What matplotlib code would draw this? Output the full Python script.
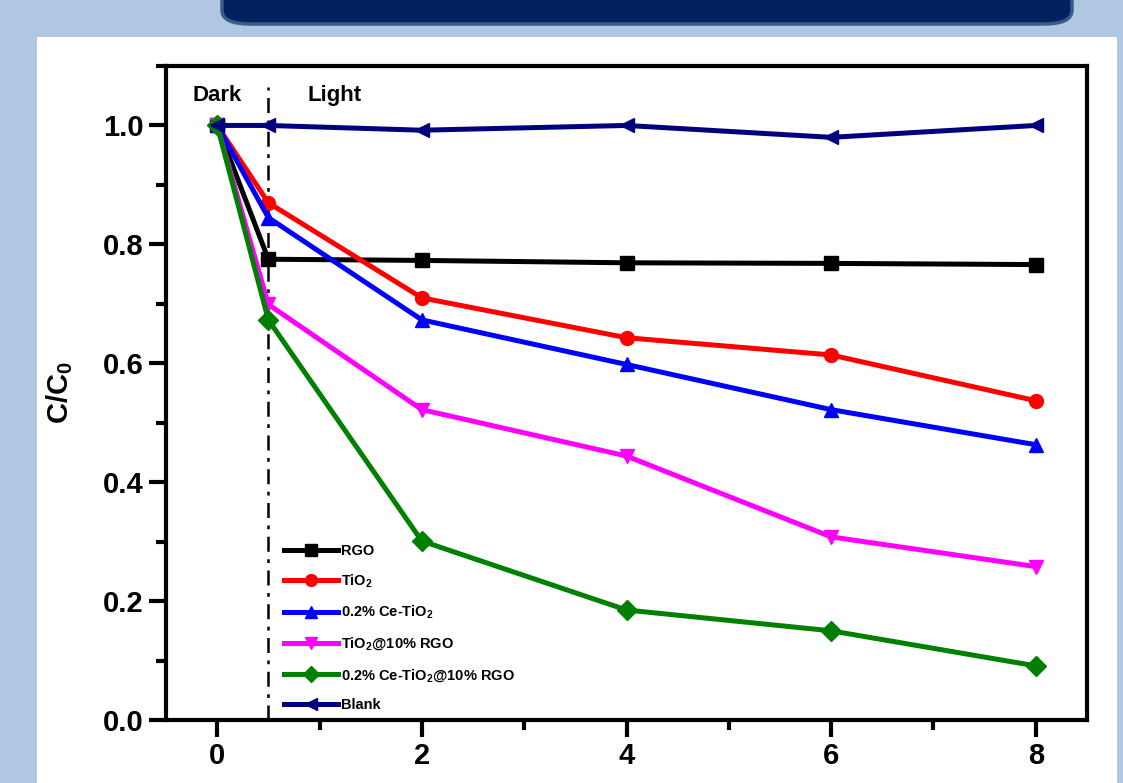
import numpy as np
import matplotlib
matplotlib.use('Agg')
import matplotlib.pyplot as plt
from matplotlib.patches import Rectangle, FancyBboxPatch
from matplotlib.ticker import MultipleLocator

plt.rcParams['font.family'] = ['Liberation Sans', 'DejaVu Sans']
plt.rcParams['font.weight'] = 'bold'
plt.rcParams['mathtext.fontset'] = 'custom'
plt.rcParams['mathtext.rm'] = 'Liberation Sans:bold'
plt.rcParams['mathtext.it'] = 'Liberation Sans:bold'
plt.rcParams['mathtext.bf'] = 'Liberation Sans:bold'
plt.rcParams['mathtext.default'] = 'rm'

# ===数据
time_h = [0, 0.5, 2, 4, 6, 8]
rgo = [1.0, 0.775, 0.773, 0.769, 0.768, 0.766]
tio2 = [1.0, 0.870, 0.710, 0.643, 0.614, 0.537]
ce_tio2 = [1.0, 0.845, 0.673, 0.598, 0.522, 0.463]
tio2_rgo = [1.0, 0.699, 0.522, 0.444, 0.308, 0.258]
ce_tio2_rgo = [1.0, 0.673, 0.301, 0.185, 0.150, 0.091]
blank = [1.0, 1.0, 0.992, 1.0, 0.980, 1.0]

series = [
    ('RGO', rgo, 'black', 's'),
    ('TiO$_2$', tio2, 'red', 'o'),
    ('0.2% Ce-TiO$_2$', ce_tio2, 'blue', '^'),
    ('TiO$_2$@10% RGO', tio2_rgo, 'magenta', 'v'),
    ('0.2% Ce-TiO$_2$@10% RGO', ce_tio2_rgo, 'green', 'D'),
    ('Blank', blank, 'navy', '<'),
]

fig = plt.figure(figsize=(11.23, 7.83), dpi=100)
fig.patch.set_facecolor('#b0c7e2')

# 白色面板 + 顶部深蓝色标题框
fig.patches.append(Rectangle((37 / 1123, 0), 1080 / 1123, 746 / 783,
                             transform=fig.transFigure, facecolor='white',
                             edgecolor='none', zorder=-2))
fig.patches.append(FancyBboxPatch((222 / 1123, 1 - 24 / 783), 850 / 1123, 60 / 783,
                                  boxstyle='round,pad=0,rounding_size=0.025',
                                  transform=fig.transFigure, facecolor='#02215f',
                                  edgecolor='#3a5a8a', linewidth=2.5, zorder=-2,
                                  mutation_aspect=783 / 1123))

ax = fig.add_axes([166 / 1123, 1 - 720 / 783, 921 / 1123, 654 / 783])
ax.set_facecolor('white')

for label, vals, color, marker in series:
    ax.plot(time_h, vals, color=color, marker=marker, linewidth=3.6,
            markersize=10, label=label, clip_on=False)

ax.plot([0.5, 0.5], [0, 1.065], color='black', linestyle='-.', linewidth=1.8,
        dashes=(6, 3, 1.5, 3), zorder=1)
ax.text(0, 1.05, 'Dark', ha='center', va='center', fontsize=16, fontweight='bold')
ax.text(1.15, 1.05, 'Light', ha='center', va='center', fontsize=16, fontweight='bold')

ax.set_xlim(-0.5, 8.5)
ax.set_ylim(0, 1.1)
ax.xaxis.set_major_locator(MultipleLocator(2))
ax.xaxis.set_minor_locator(MultipleLocator(1))
ax.yaxis.set_minor_locator(MultipleLocator(0.1))
ax.set_yticks(np.arange(0, 1.01, 0.2))
ax.set_yticklabels(['0.0', '0.2', '0.4', '0.6', '0.8', '1.0'])

ax.tick_params(which='major', direction='out', length=12, width=3, labelsize=21, pad=4)
ax.tick_params(which='minor', direction='out', length=7, width=3)
for lab in ax.get_xticklabels() + ax.get_yticklabels():
    lab.set_fontweight('bold')
for sp in ax.spines.values():
    sp.set_linewidth(3)

ax.set_ylabel('C/C$_0$', fontsize=21, fontweight='bold', labelpad=20)
ax.set_xlabel('Time (h)', fontsize=21, fontweight='bold', labelpad=12)

ax.legend(loc='lower left', bbox_to_anchor=(0.125, 0.008), frameon=False,
          fontsize=10.5, handlelength=3.7, handletextpad=0.2, labelspacing=0.98,
          borderaxespad=0, borderpad=0.2, markerscale=0.85)

fig.savefig('out.png', dpi=100, facecolor=fig.get_facecolor())
